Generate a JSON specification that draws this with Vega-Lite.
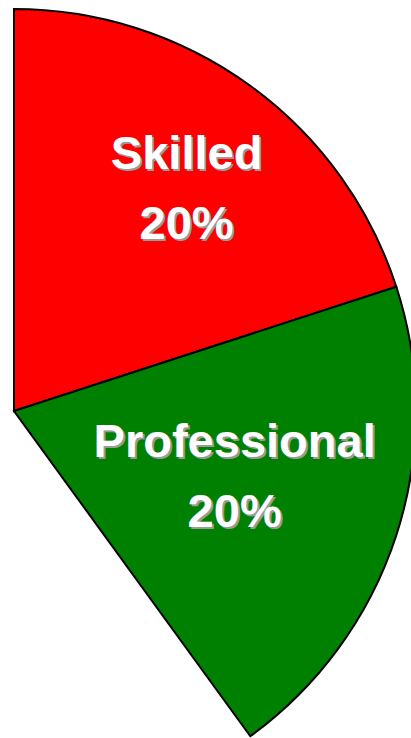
{
  "$schema": "https://vega.github.io/schema/vega-lite/v6.json",
  "autosize": "none",
  "width": 2,
  "height": 2,
  "padding": {"left": 13, "right": 396, "top": 410, "bottom": 326},
  "background": "white",
  "config": {"view": {"stroke": null}},
  "data": {
    "values": [
      {"category": "Skilled", "value": 20, "rank": 1, "label": "Skilled\n20%"},
      {"category": "Professional", "value": 20, "rank": 2, "label": "Professional\n20%"}
    ]
  },
  "encoding": {
    "theta": {"field": "value", "type": "quantitative", "stack": true, "scale": {"domain": [0, 100]}},
    "order": {"field": "rank", "type": "quantitative"}
  },
  "layer": [
    {
      "mark": {"type": "arc", "outerRadius": 402, "stroke": "black", "strokeWidth": 2},
      "encoding": {
        "color": {"field": "category", "type": "nominal", "scale": {"domain": ["Skilled", "Professional"], "range": ["#ff0000", "#008000"]}, "legend": null}
      }
    },
    {
      "mark": {"type": "text", "radius": 280, "dx": 10, "dy": -27, "font": "Liberation Sans", "fontWeight": "bold", "fontSize": 47, "lineHeight": 70, "lineBreak": "\n", "fill": "#9a9a9a", "align": "center", "baseline": "middle"},
      "encoding": {"text": {"field": "label", "type": "nominal", "condition": {"test": "datum.category !== 'Skilled'", "value": ""}}}
    },
    {
      "mark": {"type": "text", "radius": 280, "dx": 8, "dy": -29, "font": "Liberation Sans", "fontWeight": "bold", "fontSize": 47, "lineHeight": 70, "lineBreak": "\n", "fill": "white", "align": "center", "baseline": "middle"},
      "encoding": {"text": {"field": "label", "type": "nominal", "condition": {"test": "datum.category !== 'Skilled'", "value": ""}}}
    },
    {
      "mark": {"type": "text", "radius": 232, "dx": 2, "dy": -38, "font": "Liberation Sans", "fontWeight": "bold", "fontSize": 47, "lineHeight": 70, "lineBreak": "\n", "fill": "#9a9a9a", "align": "center", "baseline": "middle"},
      "encoding": {"text": {"field": "label", "type": "nominal", "condition": {"test": "datum.category !== 'Professional'", "value": ""}}}
    },
    {
      "mark": {"type": "text", "radius": 232, "dx": 0, "dy": -40, "font": "Liberation Sans", "fontWeight": "bold", "fontSize": 47, "lineHeight": 70, "lineBreak": "\n", "fill": "white", "align": "center", "baseline": "middle"},
      "encoding": {"text": {"field": "label", "type": "nominal", "condition": {"test": "datum.category !== 'Professional'", "value": ""}}}
    }
  ]
}
